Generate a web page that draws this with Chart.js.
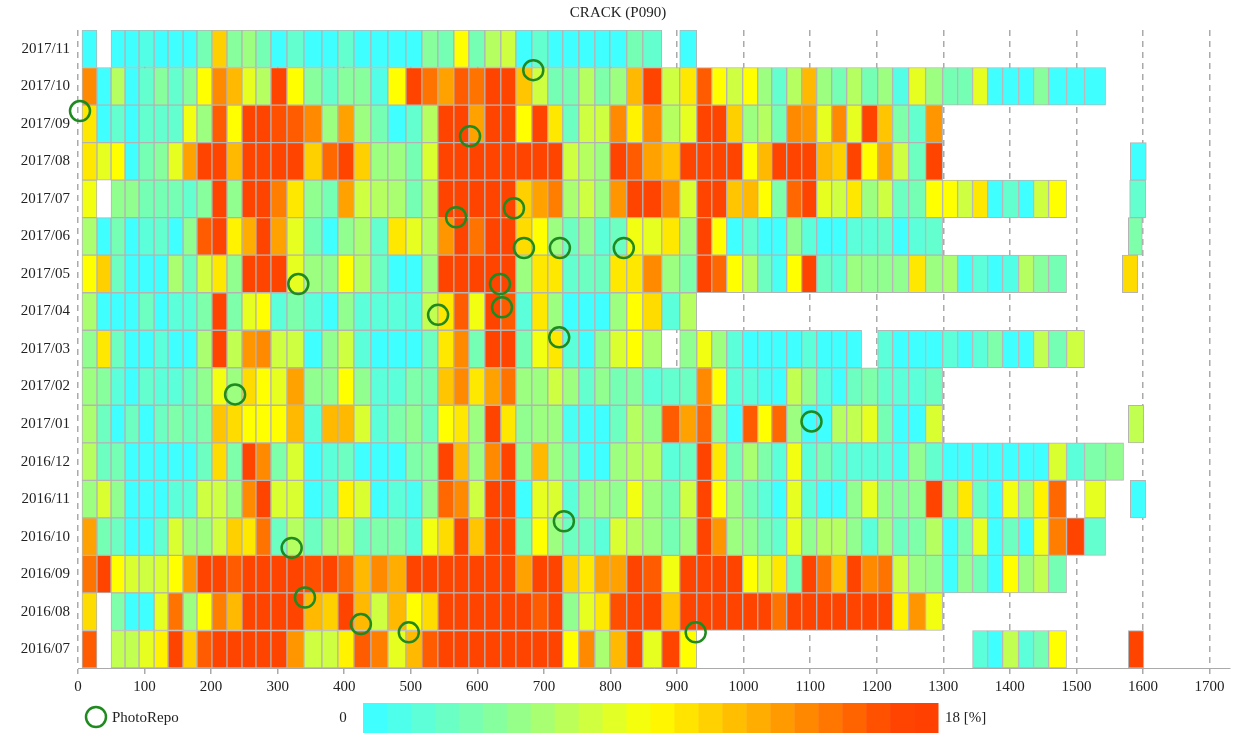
<!DOCTYPE html>
<html>
<head>
<meta charset="utf-8">
<script src="https://cdn.jsdelivr.net/npm/chart.js@4/dist/chart.umd.min.js"></script>
<style>
  html, body { margin: 0; background: #fff; }
</style>
</head>
<body>
<canvas id="crackChart" width="1242" height="756"></canvas>
<script>
const _ = null;

// rows, top to bottom
const months = ['2017/11', '2017/10', '2017/09', '2017/08', '2017/07', '2017/06', '2017/05', '2017/04', '2017/03',
  '2017/02', '2017/01', '2016/12', '2016/11', '2016/10', '2016/09', '2016/08', '2016/07'];

// section boundaries along the x axis
const cellEdges = [6, 28.5, 49.6, 70.6, 91.7, 114.3, 135.2, 157.8, 178.7, 201.2, 223.8, 246.3, 267.3, 289.8,
  313.9, 339.4, 366.4, 390.4, 414.5, 440, 465.5, 492.6, 516.6, 540.6, 564.6, 587.2, 611.2, 635.2, 657.8, 681.8,
  705.8, 728.3, 752.4, 776.4, 798.9, 824.4, 848.5, 877, 904, 929.6, 952.1, 974.6, 998.6, 1021.2, 1042.2, 1064.7,
  1087.2, 1109.8, 1132.3, 1154.8, 1177.3, 1201.4, 1223.9, 1247.9, 1273.4, 1299, 1321.5, 1344, 1366.6, 1389.1,
  1413.1, 1435.6, 1458.2, 1485.2, 1512.2, 1543.8, 1570.8];

// crack ratio [%] per section, one array per month
const m1711 = [0, _, 0, 0, 1, 0, 0, 0, 3, 11, 4, 5, 3, 0, 2, 0, 0, 2, 0, 0, 0, 0, 4, 3, 9,
  3, 6, 7, 0, 2, 0, 0, 0, 0, 0, 3, 2, _, 0];
const m1710 = [14, 0, 6, 0, 2, 4, 2, 4, 9, 14, 12, 8, 6, 17, 9, 4, 2, 4, 4, 1, 9, 17, 15, 13, 16,
  15, 17, 17, 11.5, 7, 3, 3, 6, 3.5, 5, 12, 17, 7, 10, 16, 9, 7, 9, 5, 2, 6, 12, 5, 3,
  6, 3, 5, 1, 8, 5, 3, 3, 8, 0, 0, 0, 4, 0, 0, 0];
const m1709 = [10, 0, 2, 0, 2, 2, 2, 8.5, 5, 16, 9, 17, 17, 16.5, 16, 14, 5, 13, 5, 3, 0, 2, 6, 17, 17,
  13, 17, 17, 9, 17, 10, 2.5, 7, 7, 14, 9.5, 14, 6, 8, 17, 17, 11, 5, 6, 3, 14, 13.5, 8, 14,
  8, 17, 11.5, 3.5, 2, 13.5];
const m1708 = [10, 8, 9, 0, 3, 4, 8, 13, 17, 17, 12, 17, 17, 17, 17, 11, 15.5, 17, 11, 5, 5, 3, 7.5, 17, 17,
  17, 17, 17, 17, 17, 17, 7, 6, 5, 17, 16, 13, 11.5, 17, 17, 17, 17, 9, 12, 17, 17, 17, 12, 11,
  17, 9, 13, 7, 2.5, 17];
const m1707 = [8.5, _, 4.5, 4.5, 3, 3, 3, 2, 4, 17, 4.5, 17, 17, 14.5, 10, 4.5, 3, 13, 7, 6, 5.5, 3, 6, 17, 17,
  17, 17, 17, 11, 13, 14.5, 5.5, 7, 5, 13.5, 17, 17, 14, 7.5, 17, 17, 11.5, 12, 9, 3.5, 15.5, 17, 8, 7,
  10, 5, 7, 2.5, 3, 9, 9, 7, 10, 0, 2, 0, 7, 9];
const m1706 = [5.5, 0, 3, 0, 1.5, 2, 0, 4.5, 16, 17, 9.5, 12.5, 17, 13, 8, 3, 0, 4.5, 5.5, 2, 10, 8, 6, 13.5, 17,
  15, 17, 17, 10.5, 9, 5, 2.5, 4.5, 1.5, 2.5, 8.5, 8, 10, 5, 17, 9, 0, 2, 0, 0, 4.5, 1.5, 0, 0,
  1.5, 1.5, 2, 0, 1.5, 2];
const m1705 = [9, 11, 2.5, 0, 0, 0, 5.5, 2.5, 7, 10, 4.5, 17, 17, 17, 8, 5, 4.5, 9, 6, 2.5, 0, 0, 5, 17, 17,
  17, 17, 17, 5, 10, 10, 2, 2.5, 2.5, 10, 10, 14, 5, 3.5, 17, 15.5, 9, 6, 2.5, 0.5, 9, 17, 2.5, 1.5,
  5, 4.5, 4.5, 4.5, 10, 5, 5.5, 0, 1.5, 0, 1, 6, 4, 3];
const m1704 = [5.5, 0, 0, 0, 2.5, 0, 1.5, 1.5, 3.5, 17, 3.5, 8, 9, 1.5, 3.5, 1.5, 0, 4.5, 1.5, 1.5, 1.5, 1, 6.5, 10, 16,
  8.5, 17, 16, 1.5, 10, 5, 0, 0, 0, 5, 9, 10.5, 1.5, 6];
const m1703 = [4.5, 10, 2.5, 0, 0, 1.5, 0, 0, 5.5, 17, 6.5, 13.5, 14, 7, 7, 0, 4.5, 7, 1.5, 0, 0, 0, 2.5, 10, 14,
  3, 17, 17, 3, 8.5, 10, 1.5, 0, 4.5, 7.5, 9, 5.5, _, 4.5, 8.5, 5, 1.5, 0, 0, 0, 0, 1.5, 0, 0,
  0, _, 1.5, 0, 0, 0, 1.5, 0, 1.5, 3.5, 0, 0, 6.5, 3, 7];
const m1702 = [5, 4, 1.5, 0, 2, 1.5, 1.5, 2.5, 4.5, 8.5, 5, 10.5, 9, 8, 13, 4.5, 4.5, 9, 4.5, 1.5, 1.5, 3.5, 3, 11.5, 14,
  10, 13, 15, 5, 5, 7, 5, 2, 4.5, 3, 4, 1.5, 2, 2.5, 14, 9, 1.5, 1.5, 0.5, 0, 6.5, 4.5, 1.5, 0,
  2.5, 3.5, 2, 1.5, 1.5, 2.5];
const m1701 = [5.5, 2.5, 0, 2.5, 0, 2.5, 3.5, 2.5, 3.5, 11.5, 10.5, 9, 9, 9, 12, 1.5, 12, 12, 7.5, 1.5, 3.5, 4.5, 2.5, 9, 10,
  5, 17, 10, 4.5, 5, 5, 0.5, 0, 0, 2.5, 6, 4.5, 16, 13, 15.5, 4.5, 0, 16, 9, 15.5, 5, 0, 0, 6,
  6.5, 8, 3, 0, 0, 7.5];
const m1612 = [6, 2.5, 3, 0, 0, 0, 0, 0, 2.5, 10.5, 3.5, 17, 14, 3.5, 7.5, 0, 1.5, 2.5, 0, 0, 0, 3.5, 4, 17, 12,
  5, 14, 17, 4.5, 12, 5, 3, 0, 0, 5, 6, 6, 1.5, 2.5, 17, 10, 3, 5.5, 3.5, 1.5, 8.5, 1.5, 3, 1.5,
  1.5, 1.5, 1.5, 0.5, 4.5, 2, 0, 0, 0, 0, 0, 0, 0, 7.5, 1.5, 3.5, 4.5];
const m1611 = [5, 7.5, 4.5, 0, 0, 0, 1.5, 1.5, 7, 7, 5, 14, 17, 7.5, 7.5, 0, 1.5, 9.5, 7.5, 0, 1.5, 0.5, 4.5, 15.5, 14,
  7, 17, 17, 0, 8, 7.5, 1.5, 4.5, 5, 4.5, 8.5, 5, 3, 7, 17, 9, 5, 3, 1.5, 0, 8, 1.5, 0, 0,
  4.5, 8, 4.5, 4, 4.5, 17, 4.5, 10, 2.5, 0, 8.5, 5, 9.5, 15.5, _, 8];
const m1610 = [13, 3, 2.5, 0, 0, 2, 7.5, 5, 5, 7, 11, 10, 15, 2.5, 6, 2.5, 5, 6, 2.5, 3.5, 3.5, 1.5, 8.5, 10.5, 17,
  11.5, 17, 17, 3, 9, 5, 2.5, 2.5, 1.5, 7.5, 6, 5, 3, 5, 17, 13.5, 5, 4.5, 3, 2, 8, 4.5, 6, 6,
  4.5, 1.5, 5, 2.5, 3.5, 6, 0, 3.5, 8, 0, 2.5, 0, 8.5, 14.5, 17, 2];
const m1609 = [15, 17, 9, 7.5, 7, 7.5, 9, 13.5, 17, 17, 16, 17, 17, 17, 17, 16.5, 17, 15.5, 12, 14, 12.5, 17, 17, 17, 17,
  17, 17, 17, 13, 17, 17, 11, 10, 13, 13, 17, 16, 8.5, 17, 17, 17, 17, 9, 7.5, 10, 3, 17, 15, 11.5,
  17, 14, 15, 7, 5, 4.5, 0, 4.5, 3, 0, 9, 5, 6.5, 3];
const m1608 = [10.5, _, 3.5, 0, 0, 8, 15, 5, 9, 14.5, 12, 17, 17, 17, 17, 12, 11, 17, 12, 7, 12, 9, 10.5, 17, 17,
  17, 17, 17, 17, 16, 17, 4.5, 8, 10, 16.5, 17, 17, 11.5, 17, 17, 17, 17, 17, 17, 15, 17, 17, 17, 17,
  17, 17, 17, 9.5, 13.5, 8.5];
const m1607 = [16, _, 6.5, 6.5, 8, 9.5, 17, 11, 16, 17, 17, 17, 17, 17, 13.5, 7, 7, 9.5, 16, 14.5, 8, 12, 16, 17, 17,
  17, 17, 17, 17, 17, 17, 9, 14, 5.5, 12, 17, 8, 17, 9, _, _, _, _, _, _, _, _, _, _,
  _, _, _, _, _, _, _, _, 1.5, 0, 6.5, 1.5, 3, 9];

// isolated sections near 1600
const tailFrom = [_, _, _, 1581, 1580, 1578, 1569, _, _, _, 1578, _, 1581, _, _, _, 1578];
const tailTo = [_, _, _, 1605, 1604, 1599, 1592, _, _, _, 1601, _, 1604, _, _, _, 1601];
const tailVal = [_, _, _, 0, 2, 3.5, 10.5, _, _, _, 6.5, _, 0, _, _, _, 17];

// photo locations (x, row position from the top)
const photoX = [3, 684, 589, 568, 655, 670, 724, 820, 331, 634, 637, 541, 723, 236, 1102, 730, 321, 341, 425, 497, 928];
const photoY = [1.66, 0.57, 2.33, 4.49, 4.25, 5.31, 5.31, 5.31, 6.27, 6.27, 6.89, 7.09, 7.69, 9.21, 9.93,
  12.59, 13.3, 14.62, 15.33, 15.55, 15.55];

const scaleMax = 18;
const rows = [m1711, m1710, m1709, m1708, m1707, m1706, m1705, m1704, m1703,
  m1702, m1701, m1612, m1611, m1610, m1609, m1608, m1607];

const FONT = 'Liberation Serif';
const photoColor = '#1f8a1f';

function crackColor(v) {
  const stops = [[0, [64, 255, 255]], [4.5, [144, 255, 144]], [9, [255, 255, 0]], [17, [255, 68, 0]], [18, [255, 64, 0]]];
  v = Math.max(0, Math.min(scaleMax, v));
  for (let i = 1; i < stops.length; i++) {
    if (v <= stops[i][0]) {
      const t = (v - stops[i - 1][0]) / (stops[i][0] - stops[i - 1][0]);
      const a = stops[i - 1][1], b = stops[i][1];
      return 'rgb(' + a.map((c, k) => Math.round(c + (b[k] - c) * t)).join(',') + ')';
    }
  }
  return 'rgb(255,64,0)';
}

const barStyle = {
  borderColor: '#b4b4b4',
  borderWidth: 1,
  borderSkipped: false,
  grouped: false,
  categoryPercentage: 1,
  barPercentage: 1,
  order: 1
};

let cellSets = cellEdges.slice(0, -1).map((x0, i) => Object.assign({
  data: rows.map(r => r[i] == null ? null : [x0, cellEdges[i + 1]]),
  backgroundColor: rows.map(r => r[i] == null ? 'transparent' : crackColor(r[i]))
}, barStyle));

cellSets.push(Object.assign({
  data: months.map((m, k) => tailFrom[k] == null ? null : [tailFrom[k], tailTo[k]]),
  backgroundColor: tailVal.map(v => v == null ? 'transparent' : crackColor(v))
}, barStyle));

const photoSet = {
  type: 'scatter',
  label: 'PhotoRepo',
  indexAxis: 'x',
  data: photoX.map((x, i) => ({x: x, y: photoY[i]})),
  xAxisID: 'x',
  yAxisID: 'y2',
  clip: false,
  pointRadius: 10,
  pointHoverRadius: 10,
  borderWidth: 2.5,
  borderColor: photoColor,
  backgroundColor: 'rgba(0,0,0,0)',
  order: 0
};

// bottom key: PhotoRepo marker and colour bar
const colorKey = {
  id: 'colorKey',
  afterDraw(chart) {
    const ctx = chart.ctx;
    ctx.save();
    ctx.font = '15px "' + FONT + '"';
    ctx.fillStyle = '#222';
    ctx.textBaseline = 'middle';

    ctx.beginPath();
    ctx.arc(96, 717, 10, 0, Math.PI * 2);
    ctx.lineWidth = 2.5;
    ctx.strokeStyle = photoColor;
    ctx.stroke();
    ctx.fillText('PhotoRepo', 112, 718);

    const x0 = 363, x1 = 938, n = 24, w = (x1 - x0) / n;
    for (let i = 0; i < n; i++) {
      ctx.fillStyle = crackColor(i * scaleMax / (n - 1));
      ctx.fillRect(x0 + i * w, 703, w + 0.5, 30);
    }
    ctx.fillStyle = '#222';
    ctx.textAlign = 'center';
    ctx.fillText('0', 343, 718);
    ctx.textAlign = 'left';
    ctx.fillText(scaleMax + ' [%]', 945, 718);
    ctx.restore();
  }
};

let ctx = document.getElementById('crackChart').getContext('2d');
let chart = new Chart(ctx, {
  type: 'bar',
  data: {
    labels: months,
    datasets: [photoSet].concat(cellSets)
  },
  options: {
    indexAxis: 'y',
    responsive: false,
    animation: false,
    devicePixelRatio: 1,
    layout: { padding: { left: 6, right: 12, top: 0, bottom: 0 } },
    plugins: {
      legend: { display: false },
      tooltip: { enabled: false },
      title: {
        display: true,
        text: 'CRACK (P090)',
        color: '#222',
        font: { family: FONT, size: 15, weight: 'normal' },
        padding: { top: 4, bottom: 8 }
      }
    },
    scales: {
      x: {
        type: 'linear',
        min: 0,
        max: 1730,
        z: 1,
        ticks: {
          stepSize: 100,
          includeBounds: false,
          color: '#222',
          padding: 4,
          font: { family: FONT, size: 15 },
          callback: v => String(v)
        },
        afterBuildTicks: scale => {
          scale.ticks = scale.ticks.filter(t => t.value % 100 === 0 && t.value <= 1700);
        },
        afterFit: scale => { scale.height = 88; },
        grid: {
          color: '#aaaaaa',
          lineWidth: 1.5,
          tickLength: 6,
          tickColor: '#aaaaaa',
          tickBorderDash: []
        },
        border: { display: true, color: '#aaaaaa', width: 1, dash: [6, 5] }
      },
      y: {
        type: 'category',
        offset: true,
        grid: { display: false, drawTicks: false },
        border: { display: false },
        ticks: {
          color: '#222',
          padding: 8,
          font: { family: FONT, size: 15 }
        },
        afterFit: scale => { scale.width = 72; }
      },
      y2: {
        type: 'linear',
        display: false,
        offset: false,
        grace: 0,
        min: -0.5,
        max: 16.5,
        reverse: true
      }
    }
  },
  plugins: [colorKey]
});
</script>
</body>
</html>
